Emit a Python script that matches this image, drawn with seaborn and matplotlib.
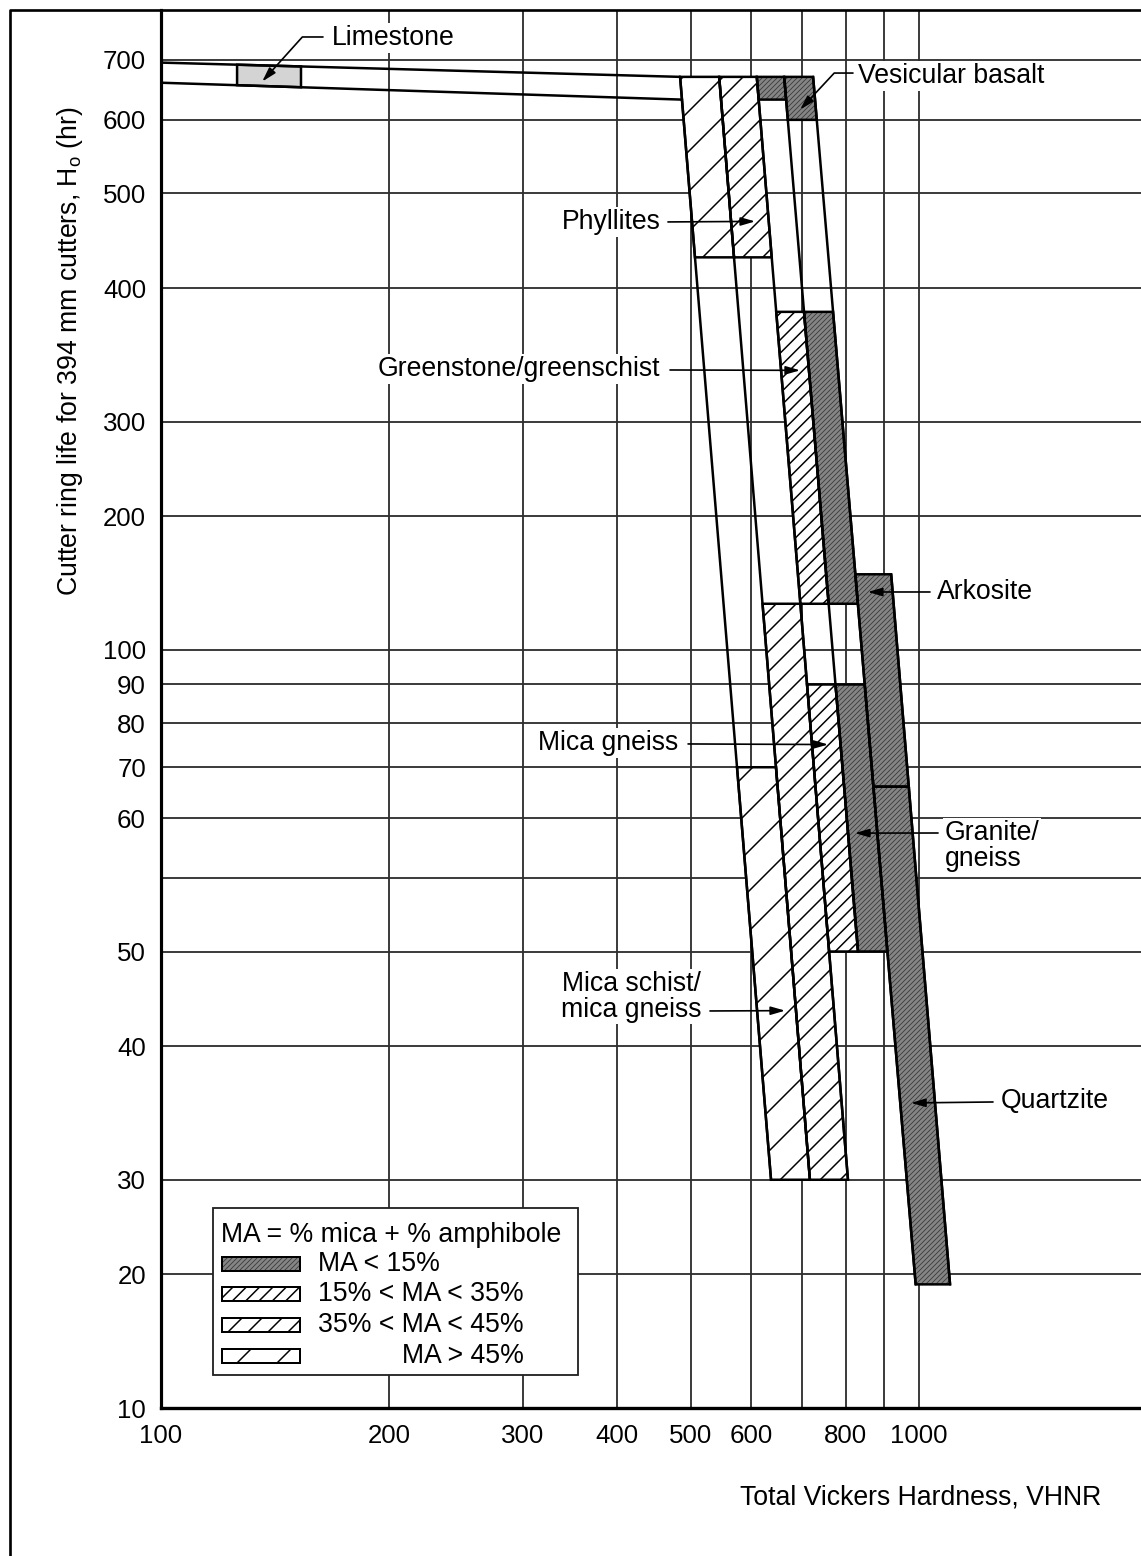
import numpy as np
import pandas as pd
import matplotlib
matplotlib.use("Agg")
import matplotlib.pyplot as plt
from matplotlib.patches import Polygon, Rectangle
from matplotlib.lines import Line2D
from matplotlib.ticker import FixedLocator, NullLocator
import seaborn as sns

# ---------------------------------------------------------------- axis rulings
vhnr_ticks = [100, 200, 300, 400, 500, 600, 700, 800, 900, 1000]
vhnr_tick_labels = ["100", "200", "300", "400", "500", "600", "", "800", "", "1000"]

life_ticks = [10, 20, 30, 40, 50, 55, 60, 70, 80, 90, 100, 200, 300, 400, 500, 600, 700]
life_tick_labels = ["10", "20", "30", "40", "50", "", "60", "70", "80", "90", "100",
                    "200", "300", "400", "500", "600", "700"]
# log-ruled line on which each printed life value sits (the printed scale is uneven)
life_ruling = [10, 15, 20, 30, 40, 50, 60, 70, 80, 90, 100, 150, 200, 300, 400, 500, 600]

# ------------------------------------------- band boundaries (VHNR, life in hr)
edge_ids = ["a", "b", "c", "d", "e", "f"]
edge_vhnr_top = [484, 545, 611, 664, 725, 919]
edge_life_top = [670, 670, 670, 670, 670, 148]
edge_vhnr_bottom = [638, 718, 806, 831, 990, 1099]
edge_life_bottom = [30, 30, 30, 50, 19, 19]

# ------------------------------------------------------------- shaded zones
zone_rock = ["Phyllites", "Phyllites", "Vesicular basalt", "Vesicular basalt",
             "Greenstone/greenschist", "Greenstone/greenschist", "Arkosite",
             "Mica gneiss", "Granite/gneiss", "Mica schist/mica gneiss",
             "Mica schist/mica gneiss", "Quartzite"]
zone_left = ["a", "b", "c", "d", "c", "d", "e", "c", "d", "a", "b", "e"]
zone_right = ["b", "c", "d", "e", "d", "e", "f", "d", "e", "b", "c", "f"]
zone_life_top = [670, 670, 670, 670, 380, 380, 148, 90, 90, 70, 127, 66]
zone_life_bottom = [430, 430, 632, 600, 127, 127, 66, 50, 50, 30, 30, 19]
zone_class = [">45", "35-45", "<15", "<15", "15-35", "<15", "<15",
              "15-35", "<15", ">45", "35-45", "<15"]

# ---------------------------------------------------------------- limestone
limestone_vhnr_start = 100
limestone_life_upper = [695, 670]
limestone_life_lower = [660, 632]
limestone_box_vhnr = [126, 153]

# ------------------------------------------------------------ rock callouts
callout_text = ["Limestone", "Vesicular basalt", "Phyllites", "Greenstone/greenschist",
                "Arkosite", "Mica gneiss", "Granite/\ngneiss", "Mica schist/\nmica gneiss",
                "Quartzite"]
callout_tip_vhnr = [136, 697, 608, 697, 856, 759, 823, 666, 976]
callout_tip_life = [662, 616, 468, 335, 135, 75, 58.7, 43.5, 35.4]

legend_classes = ["<15", "15-35", "35-45", ">45"]
legend_labels = ["MA < 15%", "15% < MA < 35%", "35% < MA < 45%", "MA > 45%"]

# ------------------------------------------------------------------- scales
_lab = np.log10([1] + life_ticks + [800, 8000])
_pos = np.log10([1] + life_ruling + [700, 7000])


def life_fwd(y):
    y = np.clip(np.asarray(y, dtype=float), 1e-6, None)
    return np.interp(np.log10(y), _lab, _pos)


def life_inv(v):
    return 10 ** np.interp(np.asarray(v, dtype=float), _pos, _lab)


edges = pd.DataFrame({"vhnr_top": edge_vhnr_top, "life_top": edge_life_top,
                      "vhnr_bottom": edge_vhnr_bottom, "life_bottom": edge_life_bottom},
                     index=edge_ids)


def vhnr_on_edge(e, life):
    r = edges.loc[e]
    f0, f1 = life_fwd(r.life_top), life_fwd(r.life_bottom)
    t = (life_fwd(life) - f0) / (f1 - f0)
    lx0, lx1 = np.log10(r.vhnr_top), np.log10(r.vhnr_bottom)
    return float(10 ** (lx0 + t * (lx1 - lx0)))


def life_on_line(x, x0, y0, x1, y1):
    t = (np.log10(x) - np.log10(x0)) / (np.log10(x1) - np.log10(x0))
    return float(life_inv(life_fwd(y0) + t * (life_fwd(y1) - life_fwd(y0))))


# -------------------------------------------------------------------- style
sns.set_theme(style="white")
plt.rcParams["font.family"] = ["Liberation Sans", "DejaVu Sans"]
plt.rcParams["mathtext.fontset"] = "custom"
plt.rcParams["mathtext.rm"] = "Liberation Sans"
plt.rcParams["mathtext.it"] = "Liberation Sans:italic"

DPI = 120
fig = plt.figure(figsize=(1141 / DPI, 1556 / DPI), dpi=DPI)
fig.patch.set_facecolor("white")
ax = fig.add_axes([161 / 1141, 1 - 1408 / 1556, 980 / 1141, 1398 / 1556])
ax.set_facecolor("white")
ax.set_xscale("log")
ax.set_yscale("function", functions=(life_fwd, life_inv))

zone_style = {
    "<15": dict(facecolor="#858585", hatch="////////", hcolor="#3a3a3a", hlw=0.5),
    "15-35": dict(facecolor="white", hatch="///", hcolor="black", hlw=0.9),
    "35-45": dict(facecolor="white", hatch="//", hcolor="black", hlw=0.9),
    ">45": dict(facecolor="white", hatch="/", hcolor="black", hlw=0.9),
}


def hatched_patch(verts, cls, transform, zorder):
    st = zone_style[cls]
    with plt.rc_context({"hatch.linewidth": st["hlw"]}):
        p = Polygon(verts, closed=True, facecolor=st["facecolor"], edgecolor=st["hcolor"],
                    linewidth=0, hatch=st["hatch"], transform=transform, zorder=zorder)
    if hasattr(p, "set_hatch_linewidth"):
        p.set_hatch_linewidth(st["hlw"])
    return p


# ---------------------------------------------------------- shaded zones
for left, right, top, bot, cls in zip(zone_left, zone_right, zone_life_top,
                                      zone_life_bottom, zone_class):
    verts = [(vhnr_on_edge(left, top), top), (vhnr_on_edge(right, top), top),
             (vhnr_on_edge(right, bot), bot), (vhnr_on_edge(left, bot), bot)]
    ax.add_patch(hatched_patch(verts, cls, ax.transData, 2))
    ax.add_patch(Polygon(verts, closed=True, fill=False, edgecolor="black",
                         linewidth=1.5, zorder=3))

# ------------------------------------------------------------- limestone
lime_up_end = vhnr_on_edge("a", limestone_life_upper[1])
lime_lo_end = vhnr_on_edge("a", limestone_life_lower[1])
lime_verts = []
for x in limestone_box_vhnr:
    lime_verts.append((x, life_on_line(x, limestone_vhnr_start, limestone_life_upper[0],
                                       lime_up_end, limestone_life_upper[1])))
for x in limestone_box_vhnr[::-1]:
    lime_verts.append((x, life_on_line(x, limestone_vhnr_start, limestone_life_lower[0],
                                       lime_lo_end, limestone_life_lower[1])))
ax.add_patch(Polygon(lime_verts, closed=True, facecolor="#d4d4d4", edgecolor="black",
                     linewidth=1.5, zorder=3))

# ------------------------------------------------------ boundary lines
rows = []
for e in edge_ids:
    r = edges.loc[e]
    rows.append((e, r.vhnr_top, r.life_top))
    rows.append((e, r.vhnr_bottom, r.life_bottom))
rows += [("lime_upper", limestone_vhnr_start, limestone_life_upper[0]),
         ("lime_upper", lime_up_end, limestone_life_upper[1]),
         ("lime_lower", limestone_vhnr_start, limestone_life_lower[0]),
         ("lime_lower", lime_lo_end, limestone_life_lower[1])]
lines_df = pd.DataFrame(rows, columns=["line", "vhnr", "life"])
sns.lineplot(data=lines_df, x="vhnr", y="life", units="line", estimator=None, sort=False,
             color="black", linewidth=1.5, legend=False, ax=ax, zorder=3)

# ---------------------------------------------------------------- axes
ax.set_xlim(100, 1963)
ax.set_ylim(10, 798)
ax.xaxis.set_major_locator(FixedLocator(vhnr_ticks))
ax.xaxis.set_minor_locator(NullLocator())
ax.set_xticklabels(vhnr_tick_labels)
ax.yaxis.set_major_locator(FixedLocator(life_ticks))
ax.yaxis.set_minor_locator(NullLocator())
ax.set_yticklabels(life_tick_labels)
ax.tick_params(axis="both", length=0, labelsize=15.5, labelcolor="black")
ax.tick_params(axis="x", pad=9.5)
ax.tick_params(axis="y", pad=9)
ax.grid(True, which="major", color="#2e2e2e", linewidth=1.1)
ax.set_axisbelow(True)
ax.set_xlabel("")
ax.set_ylabel("")
for side in ("top", "right"):
    ax.spines[side].set_visible(False)
ax.spines["left"].set_linewidth(1.9)
ax.spines["bottom"].set_linewidth(2.0)
ax.spines["left"].set_color("black")
ax.spines["bottom"].set_color("black")

ax.text(0.7755, -0.0637, "Total Vickers Hardness, VHNR", transform=ax.transAxes,
        ha="center", va="center", fontsize=16, color="black")
ax.text(-0.0925, 0.756, r"Cutter ring life for 394 mm cutters, H$_\mathregular{o}$ (hr)",
        transform=ax.transAxes, rotation=90, ha="center", va="center", fontsize=16,
        color="black")

# ------------------------------------------------------------- callouts
text_pos = [(0.1745, 0.980), (0.7112, 0.9528), (0.5102, 0.8484), (0.5092, 0.7432),
            (0.7918, 0.5837), (0.5276, 0.4757), (0.8000, 0.4020), (0.4796, 0.2943),
            (0.8570, 0.2196)]
text_ha = ["left", "left", "right", "right", "left", "right", "left", "center", "left"]
lead_start = [(0.1653, 0.9807), (0.7061, 0.9549), (0.5173, 0.8484), (0.5194, 0.7425),
              (0.7847, 0.5837), (0.5378, 0.4750), (0.7929, 0.4113), (0.5602, 0.2840),
              (0.8490, 0.2189)]
lead_bend = ["angle,angleA=0,angleB=48,rad=0", "angle,angleA=0,angleB=47,rad=0",
             None, None, None, None, None, None, None]

for txt, (tx, ty), ha, (sx, sy), tipx, tipy, bend in zip(
        callout_text, text_pos, text_ha, lead_start, callout_tip_vhnr,
        callout_tip_life, lead_bend):
    ax.text(tx, ty, txt, transform=ax.transAxes, ha=ha, va="center", fontsize=16,
            color="black", linespacing=1.0, multialignment=ha if ha != "right" else "left",
            bbox=dict(facecolor="white", edgecolor="none", pad=1.0), zorder=5)
    props = dict(arrowstyle="-|>,head_length=0.45,head_width=0.13", color="black",
                 lw=1.0, shrinkA=0, shrinkB=0, mutation_scale=16)
    if bend:
        props["connectionstyle"] = bend
    ax.annotate("", xy=(tipx, tipy), xycoords="data", xytext=(sx, sy),
                textcoords="axes fraction", arrowprops=props, zorder=4)

# ---------------------------------------------------------------- legend
ax.add_patch(Rectangle((0.0531, 0.0236), 0.3724, 0.1195, transform=ax.transAxes,
                       facecolor="white", edgecolor="#222222", linewidth=1.1, zorder=6))
ax.text(0.0612, 0.1238, "MA = % mica + % amphibole", transform=ax.transAxes,
        ha="left", va="center", fontsize=16, color="black", zorder=7)
row_y = [0.1030, 0.0815, 0.0594, 0.0372]
for cls, lab, yc in zip(legend_classes, legend_labels, row_y):
    sw = [(0.0622, yc - 0.005), (0.1418, yc - 0.005), (0.1418, yc + 0.005),
          (0.0622, yc + 0.005)]
    ax.add_patch(hatched_patch(sw, cls, ax.transAxes, 7))
    ax.add_patch(Polygon(sw, closed=True, fill=False, edgecolor="black", linewidth=1.2,
                         transform=ax.transAxes, zorder=8))
    if lab == "MA > 45%":
        ax.text(0.3704, yc, lab, transform=ax.transAxes, ha="right", va="center",
                fontsize=16, color="black", zorder=8)
    else:
        ax.text(0.1602, yc, lab, transform=ax.transAxes, ha="left", va="center",
                fontsize=16, color="black", zorder=8)

# ------------------------------------------------------------ page frame
fig.add_artist(Line2D([10 / 1141, 10 / 1141, 1.0], [0.0, 1 - 10 / 1556, 1 - 10 / 1556],
                      transform=fig.transFigure, color="black", linewidth=1.6))

fig.savefig("out.png", dpi=DPI, facecolor="white")
